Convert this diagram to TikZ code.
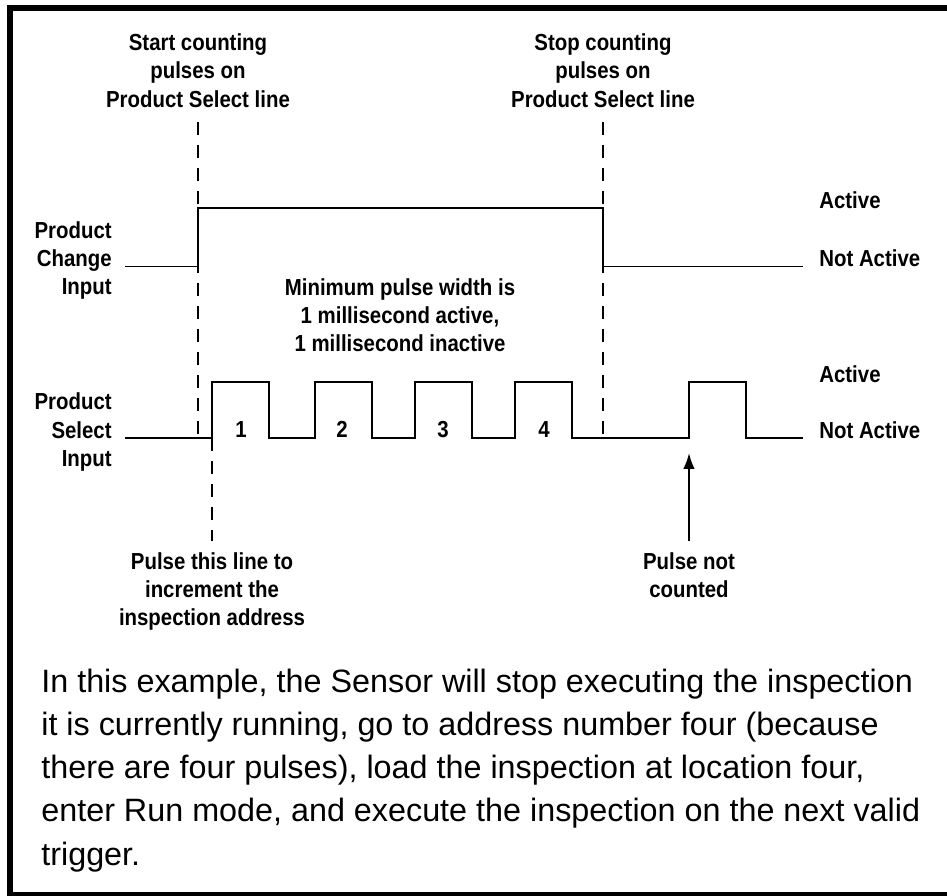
\documentclass[tikz,border=0pt]{standalone}
\usepackage{fontspec}
\setmainfont{Liberation Sans}
\newfontfamily\labelfont[FakeStretch=0.88]{Liberation Sans Bold}
\usetikzlibrary{arrows.meta}
\tikzset{
	sig/.style={draw=black,line width=1.1pt},
	guide/.style={draw=black,line width=0.8pt,dash pattern=on 7.4pt off 5.7pt},
	lbl/.style={font=\labelfont\fontsize{13.2}{16.1}\selectfont,align=center,anchor=base},
	side/.style={font=\labelfont\fontsize{13.2}{16.1}\selectfont,align=right,anchor=base east,inner sep=0pt},
	lvl/.style={font=\labelfont\fontsize{13.2}{16.1}\selectfont,anchor=base west,inner sep=0pt},
	num/.style={font=\labelfont\fontsize{13.2}{16.1}\selectfont,anchor=base,inner sep=0pt},
	arr/.style={draw=black,line width=1.1pt,-{Latex[length=9pt,width=6.5pt]}},
	body/.style={font=\fontsize{18.4}{24.6}\selectfont,align=left,anchor=base west,inner sep=0pt},
}

\begin{document}
\begin{tikzpicture}[x=0.02cm,y=-0.02cm]
	\useasboundingbox (0,0) rectangle (947,896);
	\clip (0,0) rectangle (947,896);
	\draw[line width=3.4pt] (10,8) rectangle (960,895);
	\coordinate (c0) at (125,266.5);
	\coordinate (c1) at (198,266.5);
	\coordinate (c2) at (603,266.5);
	\coordinate (c3) at (803,266.5);
	\coordinate (s0) at (125,438);
	\coordinate (s9) at (803,438);
	\coordinate (g1) at (198,438);
	\coordinate (g2) at (603,438);
	\coordinate (g3) at (212,438);
	\coordinate (m) at (689,453);
	\draw[sig] (c0) -- (c1) -- ++(0,-58.5) -| (c2) -- (c3);
	\draw[sig] (s0) foreach \x in {212,315,415,515,689} {-- (\x,438) -- (\x,382) -- ++(57,0) -- ++(0,56)} -- (s9);
	\foreach \x/\n in {241/1,342/2,443/3,544/4}
		\node[num] (n\n) at (\x,437) {\n};
	\node[lbl] (start) at (198,107) {Start counting\\pulses on\\Product Select line};
	\node[lbl] (stop) at (603,107) {Stop counting\\pulses on\\Product Select line};
	\draw[guide,shorten <=5pt] (start.south) -- (g1);
	\draw[guide,shorten <=5pt] (stop.south) -- (g2);
	\node[side] (chg) at (112,294.8) {Product\\Change\\Input};
	\node[side] (sel) at (112,466.3) {Product\\Select\\Input};
	\node[lvl] (ca) at (819,208) {Active};
	\node[lvl] (cn) at (819,266.5) {Not Active};
	\node[lvl] (sa) at (819,382) {Active};
	\node[lvl] (sn) at (819,438) {Not Active};
	\node[lbl] (minw) at (400,351.7) {Minimum pulse width is\\1 millisecond active,\\1 millisecond inactive};
	\node[lbl] (incr) at (212,625.6) {Pulse this line to\\increment the\\inspection address};
	\draw[guide,shorten >=3pt] (g3) -- (incr.north);
	\node[lbl] (miss) at (689,597.6) {Pulse not\\counted};
	\draw[arr,shorten <=3pt] (miss.north) -- (m);
	\node[body] (note) at (41,865) {In this example, the Sensor will stop executing the inspection\\it is currently running, go to address number four (because\\there are four pulses), load the inspection at location four,\\enter Run mode, and execute the inspection on the next valid\\trigger.};
\end{tikzpicture}
\end{document}
